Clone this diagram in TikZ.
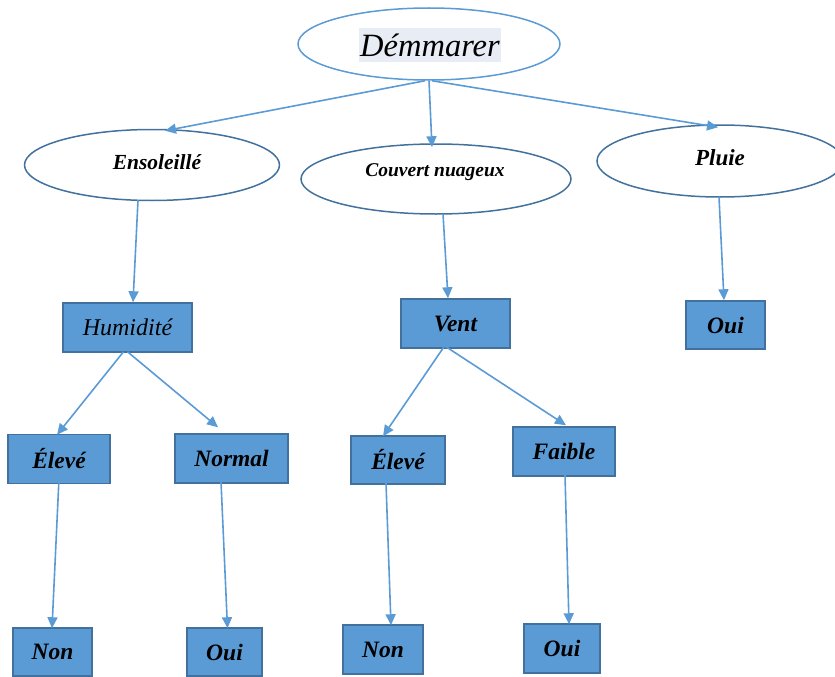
\documentclass[tikz,border=0pt]{standalone}
\usepackage{fontspec}
\setmainfont{Liberation Serif}
\usetikzlibrary{shapes.geometric,arrows.meta}
\definecolor{boxfill}{HTML}{5B9BD5}
\definecolor{boxline}{HTML}{41719C}
\definecolor{arrowc}{HTML}{5B9BD5}
\definecolor{hilite}{HTML}{E8ECF5}
\begin{document}
\begin{tikzpicture}[x=1pt,y=-1pt,
  oval/.style={ellipse, draw=boxline, line width=1.5pt, inner sep=0pt},
  leaf/.style={rectangle, fill=boxfill, draw=boxline, line width=1.5pt, inner sep=0pt,
    font=\fontsize{23.5}{26}\selectfont\bfseries\itshape},
  arr/.style={draw=arrowc, line width=1.6pt, -{Triangle[length=11pt,width=10pt]}}]
\useasboundingbox (0,0) rectangle (835,677);

% root
\node[oval, draw=arrowc, minimum width=262pt, minimum height=72pt] (start) at (429,44) {};
\node[fill=hilite, inner sep=0pt, minimum width=142pt, minimum height=34pt,
  font=\fontsize{32.5}{34}\selectfont\itshape] (starttxt) at (430,45) {Démmarer};

% weather outlooks
\node[oval, minimum width=255pt, minimum height=71pt] (ens) at (152,165) {};
\node[font=\fontsize{21.5}{24}\selectfont\bfseries\itshape] at (157,162) {Ensoleillé};
\node[oval, minimum width=270pt, minimum height=70pt] (couv) at (436,179) {};
\node[font=\fontsize{19.5}{22}\selectfont\bfseries\itshape] at (435,172) {Couvert nuageux};
\node[oval, minimum width=246pt, minimum height=72pt] (pluie) at (720,161) {};
\node[font=\fontsize{23}{26}\selectfont\bfseries\itshape] at (720,158) {Pluie};

% attributes
\node[leaf, minimum width=129pt, minimum height=49pt,
  font=\fontsize{24}{26}\selectfont\itshape] (hum) at (127.5,327.5) {Humidité};
\node[leaf, minimum width=109pt, minimum height=49pt] (vent) at (455.5,323.5) {Vent};
\node[leaf, minimum width=79pt, minimum height=48pt] (ouiP) at (725.5,325) {Oui};

% values
\node[leaf, minimum width=102pt, minimum height=49pt] (elevA) at (59,459) {Élevé};
\node[leaf, minimum width=113pt, minimum height=49pt] (norm) at (231.5,458.5) {Normal};
\node[leaf, minimum width=94pt, minimum height=48pt] (elevB) at (398,460) {Élevé};
\node[leaf, minimum width=102pt, minimum height=49pt] (faib) at (564,451.5) {Faible};

% decisions
\node[leaf, minimum width=79pt, minimum height=48pt] (nonA) at (52.5,652) {Non};
\node[leaf, minimum width=75pt, minimum height=48pt] (ouiA) at (224.5,652) {Oui};
\node[leaf, minimum width=80pt, minimum height=49pt] (nonB) at (383,649.5) {Non};
\node[leaf, minimum width=76pt, minimum height=49pt] (ouiB) at (562,648.5) {Oui};

% connectors
\draw[arr] ([xshift=-4pt]start.south) -- ([xshift=13pt,yshift=-2pt]ens.north);
\draw[arr] ([xshift=0pt]start.south) -- ([xshift=-4pt,yshift=-4pt]couv.north);
\draw[arr] ([xshift=3pt]start.south) -- ([xshift=-2pt,yshift=-3pt]pluie.north);

\draw[arr] ([xshift=-14pt,yshift=1pt]ens.south) -- ([xshift=5.5pt]hum.north);
\draw[arr] ([xshift=7pt,yshift=1pt]couv.south) -- ([xshift=-7.5pt]vent.north);
\draw[arr] ([xshift=-1pt,yshift=1pt]pluie.south) -- ([xshift=-1.5pt]ouiP.north);

\draw[arr] ([xshift=-4pt,yshift=1pt]hum.south) -- ([xshift=-2pt,yshift=-1pt]elevA.north);
\draw[arr] ([xshift=0pt,yshift=1pt]hum.south) -- ([xshift=-13.5pt,yshift=6pt]norm.north);
\draw[arr] ([xshift=-11.5pt,yshift=2pt]vent.south) -- ([xshift=-15pt,yshift=-1pt]elevB.north);
\draw[arr] ([xshift=-9.5pt,yshift=2pt]vent.south) -- ([xshift=2pt,yshift=1pt]faib.north);

\draw[arr] ([xshift=0pt,yshift=6pt]elevA.south) -- ([xshift=-0.5pt,yshift=-1pt]nonA.north);
\draw[arr] ([xshift=-10.5pt,yshift=2pt]norm.south) -- ([xshift=3pt,yshift=-1pt]ouiA.north);
\draw[arr] ([xshift=-12pt,yshift=2pt]elevB.south) -- ([xshift=8pt,yshift=-1pt]nonB.north);
\draw[arr] ([xshift=1pt,yshift=2pt]faib.south) -- ([xshift=7pt,yshift=-1pt]ouiB.north);
\end{tikzpicture}
\end{document}
